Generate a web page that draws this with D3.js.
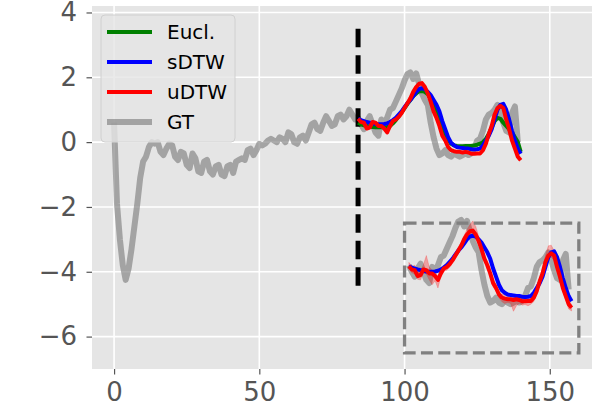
<!DOCTYPE html>
<html>
<head>
<meta charset="utf-8">
<script src="https://cdnjs.cloudflare.com/ajax/libs/d3/7.8.5/d3.min.js"></script>
<style>
body { margin: 0; background: #fff; }
svg { display: block; font-family: "DejaVu Sans", sans-serif; }
</style>
</head>
<body>
<svg id="chart" width="592" height="402"></svg>
<script>
// ground truth, one value per step, t = 0 .. 139
var gtValues = [
	0.6, -1.9, -3.0, -3.8, -4.25, -3.9, -3.3, -2.6, -1.9, -1.1,
	-0.6, -0.45, -0.15, 0.0, -0.05, 0.0, -0.3, -0.4, -0.2, -0.05,
	-0.1, -0.45, -0.55, -0.3, -0.35, -0.7, -0.8, -0.35, -0.5, -0.9,
	-0.95, -0.6, -0.55, -0.9, -1.0, -0.75, -0.7, -1.0, -1.05, -0.75,
	-0.7, -0.95, -0.6, -0.55, -0.5, -0.55, -0.25, -0.2, -0.4, -0.25,
	-0.05, -0.1, -0.05, 0.05, 0.1, 0.05, 0.0, 0.15, 0.1, 0.0,
	0.3, 0.25, 0.0, -0.05, 0.15, 0.2, 0.05, 0.3, 0.55, 0.6,
	0.4, 0.35, 0.6, 0.8, 0.65, 0.5, 0.55, 0.8, 0.85, 0.7,
	0.8, 1.0, 0.85, 0.7, 0.75,
	0.55, 0.4, 0.65, 0.8, 0.55, 0.3, 0.2, 0.7, 0.6, 0.75,
	1.0, 1.05, 1.25, 1.45, 1.65, 1.9, 2.1, 2.15, 1.95, 2.12,
	1.8, 1.5, 1.3, 1.15, 0.6, 0.15, -0.2, -0.4, -0.35, -0.25,
	-0.4, -0.45, -0.35, -0.4, -0.45, -0.4, -0.35, -0.4, -0.35, -0.2,
	0.05, 0.1, 0.35, 0.7, 0.85, 0.9, 1.0, 1.15, 0.9, 0.6,
	0.35, 0.3, 0.9, 1.1, 0.0
];

// forecasts start at t = 84 and run to t = 140
var predStart = 84;
var euclValues = [
	0.6, 0.55, 0.52, 0.5, 0.48, 0.47, 0.46, 0.46, 0.46, 0.46,
	0.47, 0.5, 0.58, 0.68, 0.8, 0.92, 1.05, 1.18, 1.3, 1.42,
	1.5, 1.57, 1.58, 1.55, 1.48, 1.35, 1.2, 1.0, 0.75, 0.5,
	0.25, 0.08, -0.05, -0.1, -0.12, -0.13, -0.13, -0.12, -0.12, -0.12,
	-0.1, -0.08, -0.05, 0.0, 0.1, 0.25, 0.45, 0.65, 0.75, 0.72,
	0.6, 0.5, 0.4, 0.3, 0.15, 0.0, -0.3
];
var sdtwValues = [
	0.72, 0.68, 0.65, 0.62, 0.6, 0.58, 0.56, 0.55, 0.55, 0.56,
	0.58, 0.62, 0.68, 0.75, 0.85, 0.95, 1.08, 1.2, 1.3, 1.42,
	1.55, 1.64, 1.66, 1.64, 1.55, 1.45, 1.3, 1.15, 0.95, 0.65,
	0.4, 0.15, -0.02, -0.1, -0.15, -0.17, -0.18, -0.2, -0.2, -0.22,
	-0.23, -0.22, -0.2, -0.1, 0.05, 0.2, 0.4, 0.7, 1.0, 1.15,
	1.18, 1.0, 0.7, 0.35, 0.05, -0.2, -0.36
];
var udtwValues = [
	0.72, 0.62, 0.6, 0.42, 0.45, 0.62, 0.6, 0.5, 0.5, 0.42,
	0.3, 0.5, 0.65, 0.7, 0.78, 0.9, 1.05, 1.2, 1.35, 1.55,
	1.7, 1.8, 1.82, 1.7, 1.5, 1.25, 0.95, 0.75, 0.5, 0.2,
	0.05, -0.15, -0.25, -0.28, -0.3, -0.3, -0.32, -0.3, -0.32, -0.36,
	-0.36, -0.35, -0.35, -0.25, -0.05, 0.25, 0.5, 0.85, 1.05, 1.12,
	1.05, 0.7, 0.4, 0.05, -0.2, -0.45, -0.56
];
// uDTW sample spread (below / above the mean), shown in the inset only
var udtwSpreadLo = [
	0.08, 0.1, 0.12, 0.1, 0.15, 0.1, 0.12, 0.2, 0.35, 0.15,
	0.25, 0.1, 0.08, 0.1, 0.1, 0.08, 0.1, 0.1, 0.08, 0.1,
	0.12, 0.1, 0.1, 0.15, 0.12, 0.1, 0.1, 0.12, 0.1, 0.12,
	0.1, 0.1, 0.12, 0.15, 0.1, 0.12, 0.35, 0.2, 0.1, 0.12,
	0.1, 0.15, 0.1, 0.12, 0.1, 0.1, 0.12, 0.1, 0.1, 0.12,
	0.15, 0.1, 0.12, 0.1, 0.12, 0.15, 0.1
];
var udtwSpreadHi = [
	0.12, 0.1, 0.15, 0.1, 0.12, 0.15, 0.45, 0.2, 0.1, 0.12,
	0.1, 0.15, 0.1, 0.12, 0.1, 0.12, 0.1, 0.12, 0.1, 0.12,
	0.15, 0.2, 0.3, 0.25, 0.15, 0.12, 0.1, 0.12, 0.1, 0.1,
	0.12, 0.1, 0.1, 0.2, 0.1, 0.12, 0.1, 0.1, 0.12, 0.1,
	0.1, 0.12, 0.1, 0.1, 0.12, 0.1, 0.15, 0.2, 0.3, 0.25,
	0.15, 0.12, 0.1, 0.12, 0.1, 0.12, 0.1
];

var seriesNames = ["Eucl.", "sDTW", "uDTW", "GT"];
var xTicks = [0, 50, 100, 150];
var yTicks = [-6, -4, -2, 0, 2, 4];
var splitX = 84, splitRange = [-4.5, 3.5];
var insetBox = [100, 160, -6.5, -2.5];   // x0, x1, y0, y1
var insetShift = [17.5, -4.55];          // dx, dy of the inset copy

var WIDTH = 592, HEIGHT = 402, MARGINS = { top: 6, left: 92, bottom: 369, right: 598 };
var colors = { "Eucl.": "#008000", "sDTW": "#0000ff", "uDTW": "#ff0000", "GT": "#808080" };

var vis = d3.select("#chart");
var xScale = d3.scaleLinear().domain([-7.6, 166.6]).range([MARGINS.left, MARGINS.right]);
var yScale = d3.scaleLinear().domain([-7.0, 4.2]).range([MARGINS.bottom, MARGINS.top]);

// panel + grid
vis.append("rect").attr("x", MARGINS.left).attr("y", MARGINS.top)
	.attr("width", MARGINS.right - MARGINS.left).attr("height", MARGINS.bottom - MARGINS.top)
	.attr("fill", "#e5e5e5");

vis.append("g").selectAll("line").data(xTicks).enter().append("line")
	.attr("x1", function(d) { return xScale(d); }).attr("x2", function(d) { return xScale(d); })
	.attr("y1", MARGINS.top).attr("y2", MARGINS.bottom)
	.attr("stroke", "#fff").attr("stroke-width", 1.6);
vis.append("g").selectAll("line").data(yTicks).enter().append("line")
	.attr("y1", function(d) { return yScale(d); }).attr("y2", function(d) { return yScale(d); })
	.attr("x1", MARGINS.left).attr("x2", MARGINS.right)
	.attr("stroke", "#fff").attr("stroke-width", 1.6);

function lineFrom(start, dx, dy) {
	return d3.line()
		.x(function(d, i) { return xScale(start + i + dx); })
		.y(function(d) { return yScale(d + dy); });
}

function drawLine(values, start, dx, dy, color, width, opacity) {
	vis.append("path").attr("d", lineFrom(start, dx, dy)(values))
		.attr("fill", "none").attr("stroke", color).attr("stroke-width", width)
		.attr("stroke-opacity", opacity).attr("stroke-linejoin", "round")
		.attr("stroke-linecap", "butt");
}

// main plot
drawLine(gtValues, 0, 0, 0, colors.GT, 6, 0.65);

vis.append("line")
	.attr("x1", xScale(splitX)).attr("x2", xScale(splitX))
	.attr("y1", yScale(splitRange[1])).attr("y2", yScale(splitRange[0]))
	.attr("stroke", "#000").attr("stroke-width", 5).attr("stroke-dasharray", "18.5,8");

drawLine(euclValues, predStart, 0, 0, colors["Eucl."], 4, 1);
drawLine(sdtwValues, predStart, 0, 0, colors.sDTW, 4, 1);
drawLine(udtwValues, predStart, 0, 0, colors.uDTW, 4, 1);

// inset copy: GT, uDTW spread, sDTW, uDTW
drawLine(gtValues.slice(predStart), predStart, insetShift[0], insetShift[1], colors.GT, 6, 0.65);

var band = d3.area()
	.x(function(d, i) { return xScale(predStart + i + insetShift[0]); })
	.y0(function(d, i) { return yScale(d - udtwSpreadLo[i] + insetShift[1]); })
	.y1(function(d, i) { return yScale(d + udtwSpreadHi[i] + insetShift[1]); });
vis.append("path").attr("d", band(udtwValues))
	.attr("fill", colors.uDTW).attr("fill-opacity", 0.3)
	.attr("stroke", colors.uDTW).attr("stroke-opacity", 0.25).attr("stroke-width", 0.8);

drawLine(sdtwValues, predStart, insetShift[0], insetShift[1], colors.sDTW, 4, 1);
drawLine(udtwValues, predStart, insetShift[0], insetShift[1], colors.uDTW, 4, 1);

vis.append("rect")
	.attr("x", xScale(insetBox[0])).attr("y", yScale(insetBox[3]))
	.attr("width", xScale(insetBox[1]) - xScale(insetBox[0]))
	.attr("height", yScale(insetBox[2]) - yScale(insetBox[3]))
	.attr("fill", "none").attr("stroke", "#808080").attr("stroke-width", 3.3)
	.attr("stroke-dasharray", "12,5.3");

// axes
var xAxis = d3.axisBottom(xScale).tickValues(xTicks).tickSize(5.5).tickPadding(8.5)
	.tickFormat(d3.format("d"));
var yAxis = d3.axisLeft(yScale).tickValues(yTicks).tickSize(5.5).tickPadding(9.5)
	.tickFormat(function(d) { return d < 0 ? "\u2212" + Math.abs(d) : String(d); });

var gx = vis.append("g").attr("transform", "translate(0," + MARGINS.bottom + ")").call(xAxis);
var gy = vis.append("g").attr("transform", "translate(" + MARGINS.left + ",0)").call(yAxis);
[gx, gy].forEach(function(g) {
	g.select(".domain").remove();
	g.selectAll(".tick line").attr("stroke", "#555").attr("stroke-width", 1.2);
	g.selectAll(".tick text").attr("fill", "#555").style("font-size", "26px")
		.style("font-family", "DejaVu Sans, sans-serif");
});

// legend
var legend = vis.append("g").attr("transform", "translate(101,15)");
legend.append("rect").attr("width", 134).attr("height", 127).attr("rx", 4)
	.attr("fill", "#e5e5e5").attr("fill-opacity", 0.8)
	.attr("stroke", "#d0d0d0").attr("stroke-width", 1);
var items = legend.selectAll("g.item").data(seriesNames).enter().append("g")
	.attr("class", "item")
	.attr("transform", function(d, i) { return "translate(0," + (17 + i * 30) + ")"; });
items.append("line").attr("x1", 6).attr("x2", 51)
	.attr("stroke", function(d) { return colors[d]; })
	.attr("stroke-width", function(d) { return d == "GT" ? 6 : 4; })
	.attr("stroke-opacity", function(d) { return d == "GT" ? 0.65 : 1; });
items.append("text").attr("x", 66).attr("y", 7.2)
	.style("font-size", "20px").attr("fill", "#000")
	.text(function(d) { return d; });
</script>
</body>
</html>
